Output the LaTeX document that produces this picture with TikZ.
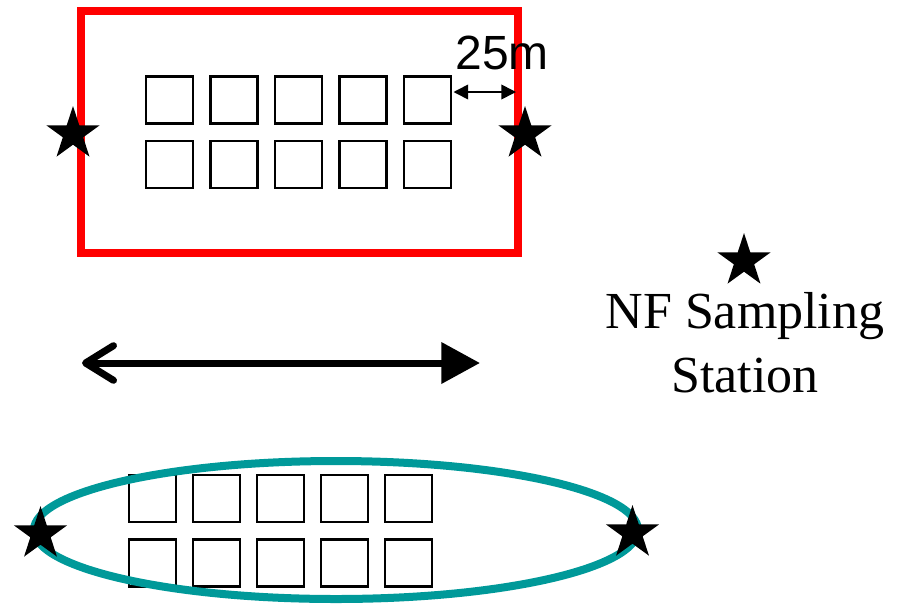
\documentclass[tikz,border=0pt]{standalone}
\usepackage{fontspec}
\setmainfont{Liberation Serif}
\newfontfamily\arialfont{Liberation Sans}
\usetikzlibrary{shapes.geometric,arrows.meta}
\definecolor{tealring}{RGB}{0,153,153}
\tikzset{
  plotbox/.style={draw=black, line width=1.6pt, minimum size=35.25pt, inner sep=0pt, fill=none},
  starmark/.style={star, star points=5, star point ratio=2.618, minimum size=42pt, inner sep=0pt, fill=black, draw=none},
  redframe/.style={draw=red, line width=6pt},
  tealring/.style={draw=tealring, line width=6pt},
}
\begin{document}
\begin{tikzpicture}[x=0.75pt,y=-0.75pt]
\useasboundingbox (0,0) rectangle (902,604);
% top plots
\foreach \i in {0,...,4}{
  \node[plotbox] (ta\i) at ({169.5+64.5*\i},100) {};
  \node[plotbox] (tb\i) at ({169.5+64.5*\i},164.5) {};
}
\draw[redframe] (81,11) rectangle (518,253);
% 25 m dimension
\coordinate (dimL) at (453.5,92);
\coordinate (dimR) at (516,92);
\draw[line width=1.2pt, {Triangle[length=11pt,width=11pt]}-{Triangle[length=11pt,width=11pt]}] (dimL) -- (dimR);
\node[anchor=base, font=\arialfont\fontsize{36}{40}\selectfont, inner sep=0pt] (lbl) at (502,69) {25m};
% stars of top frame
\node[starmark] (s1) at (73,134) {};
\node[starmark] (s2) at (525,134) {};
% legend
\node[starmark] (s0) at (744,261) {};
\node[align=center, anchor=base, inner sep=0pt, font=\fontsize{39}{48}\selectfont] (legend) at (745,392) {NF Sampling\\Station};
% big arrow
\coordinate (aL) at (82,363);
\coordinate (aR) at (480,363);
\draw[line width=5.25pt, {Straight Barb[length=21pt,width=26pt,round]}-{Triangle[length=29pt,width=30pt]}] (aL) -- (aR);
% bottom plots
\foreach \i in {0,...,4}{
  \node[plotbox] (ba\i) at ({152.5+64*\i},498.5) {};
  \node[plotbox] (bb\i) at ({152.5+64*\i},563) {};
}
\draw[tealring] (336,530) ellipse [x radius=302, y radius=69];
\node[starmark] (s3) at (40.5,534) {};
\node[starmark] (s4) at (632.5,533) {};
\end{tikzpicture}
\end{document}
